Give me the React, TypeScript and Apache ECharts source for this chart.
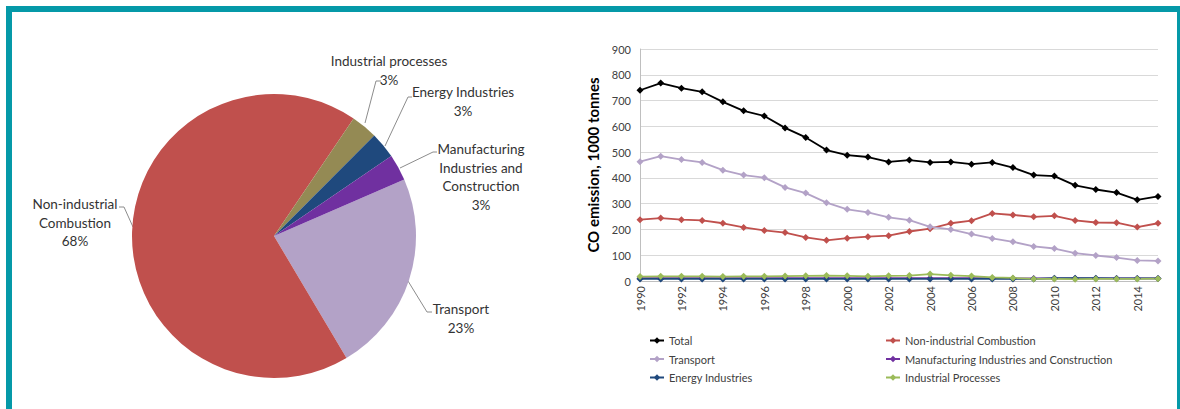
import React, { useEffect, useRef } from "react";
import * as echarts from "echarts";

const years = ["1990","1991","1992","1993","1994","1995","1996","1997","1998","1999","2000","2001","2002","2003","2004","2005","2006","2007","2008","2009","2010","2011","2012","2013","2014","2015"];

const total = [740,768,748,734,695,660,640,594,557,508,488,481,462,469,460,462,453,460,440,411,407,371,355,343,315,328];
const nonIndustrial = [238,244,238,235,224,208,196,188,169,158,166,172,176,192,203,224,234,262,256,249,253,235,227,226,209,224];
const transport = [463,484,471,460,430,411,401,363,341,304,278,266,247,236,210,200,182,165,152,134,126,108,99,91,80,78];
const manufacturing = [11,11,11,11,11,11,11,11,11,11,11,11,11,11,11,11,11,11,10,10,10,10,10,10,10,10];
const energy = [8,8,8,8,8,8,8,8,8,8,8,8,8,8,8,8,8,8,8,8,11,11,11,10,10,10];
const industrial = [17,18,18,18,17,18,18,19,20,21,20,18,20,21,27,22,19,14,12,8,8,7,8,8,8,9];

const pieNames = ["Transport","Non-industrial Combustion","Industrial processes","Energy Industries","Manufacturing Industries and Construction"];
const pieValues = [23,68,3,3,3];
const pieLabels = ["Transport\n23%","Non-industrial\nCombustion\n68%","Industrial processes\n3%","Energy Industries\n3%","Manufacturing\nIndustries and\nConstruction\n3%"];
const pieColors = ["#B3A2C7","#C0504D","#948A54","#1F497D","#7030A0"];

const lineNames = ["Total","Non-industrial Combustion","Transport","Manufacturing Industries and Construction","Energy Industries","Industrial Processes"];
const lineColors = ["#000000","#C0504D","#B3A2C7","#7030A0","#1F497D","#9BBB59"];
const lineData = [total, nonIndustrial, transport, manufacturing, energy, industrial];

// label placement (text block anchor and leader line) per pie slice
const pieLabelLayout = [
  { x: 461, y: 300, pts: [[408,281],[427,312],[432,312]] },
  { x: 75, y: 195, pts: [[133,227],[124,207],[119,207]] },
  { x: 389, y: 52, pts: [[365,123],[376,81],[381,81]] },
  { x: 463, y: 83, pts: [[385,146],[408,97],[412,97]] },
  { x: 481, y: 140, pts: [[400,168],[433,152],[437,152]] },
];

const FONT = "Lato, 'Open Sans', sans-serif";
const TEAL = "#0599A8";

export default function App() {
  const ref = useRef<HTMLDivElement>(null);
  useEffect(() => {
    if (!ref.current) return;
    const chart = echarts.init(ref.current, null, { renderer: "svg" });
    const legendCommon = {
      orient: "vertical", top: 335, itemWidth: 14, itemHeight: 8, itemGap: 7.5, padding: 0,
      textStyle: { fontSize: 11, color: "#404040", fontFamily: FONT },
    };
    const option: any = {
      animation: false,
      backgroundColor: "#ffffff",
      textStyle: { fontFamily: FONT },
      graphic: [
        { type: "rect", shape: { x: 6, y: 6, width: 1180, height: 6 }, style: { fill: TEAL }, silent: true },
        { type: "rect", shape: { x: 6, y: 6, width: 6, height: 410 }, style: { fill: TEAL }, silent: true },
        { type: "rect", shape: { x: 1177, y: 6, width: 6, height: 410 }, style: { fill: TEAL }, silent: true },
      ],
      grid: { left: 640, right: 22, top: 49, bottom: 128, containLabel: false },
      legend: [
        { ...legendCommon, left: 649, data: [lineNames[0], lineNames[2], lineNames[4]] },
        { ...legendCommon, left: 885, data: [lineNames[1], lineNames[3], lineNames[5]] },
      ],
      xAxis: {
        type: "category", data: years, boundaryGap: false,
        axisLine: { lineStyle: { color: "#bfbfbf" } },
        axisTick: { show: false },
        axisLabel: { interval: 1, rotate: 90, fontSize: 11, color: "#404040", margin: 5, fontFamily: FONT },
      },
      yAxis: {
        type: "value", min: 0, max: 900, interval: 100,
        name: "CO emission, 1000 tonnes", nameLocation: "middle", nameGap: 40,
        nameTextStyle: { fontWeight: "bold", fontSize: 15, color: "#000", fontFamily: FONT },
        axisLine: { show: true, lineStyle: { color: "#bfbfbf" } },
        axisTick: { show: false },
        splitLine: { lineStyle: { color: "#d9d9d9" } },
        axisLabel: { fontSize: 11, color: "#404040", margin: 9, fontFamily: FONT },
      },
      series: [
        {
          type: "pie", center: [274, 236], radius: 142, startAngle: 23.5, clockwise: true,
          silent: true, avoidLabelOverlap: false,
          data: pieNames.map((n, i) => ({
            name: n, value: pieValues[i], itemStyle: { color: pieColors[i] },
            label: { formatter: pieLabels[i] },
          })),
          label: { show: true, position: "outside", fontSize: 13.5, lineHeight: 18.5, color: "#333333", align: "center", fontFamily: FONT },
          labelLine: { show: true, lineStyle: { color: "#8c8c8c", width: 1 } },
          labelLayout: (p: any) => {
            const l = pieLabelLayout[p.dataIndex];
            return { x: l.x, y: l.y, align: "center", verticalAlign: "top", labelLinePoints: l.pts };
          },
        },
        ...lineNames.map((n, i) => ({
          type: "line", name: n, data: lineData[i],
          symbol: "diamond", symbolSize: 7,
          lineStyle: { color: lineColors[i], width: 1.8 },
          itemStyle: { color: lineColors[i] },
        })),
      ],
    };
    chart.setOption(option);
    return () => chart.dispose();
  }, []);
  return <div ref={ref} style={{ position: "absolute", left: 0, top: 0, width: 1180, height: 409 }} />;
}
